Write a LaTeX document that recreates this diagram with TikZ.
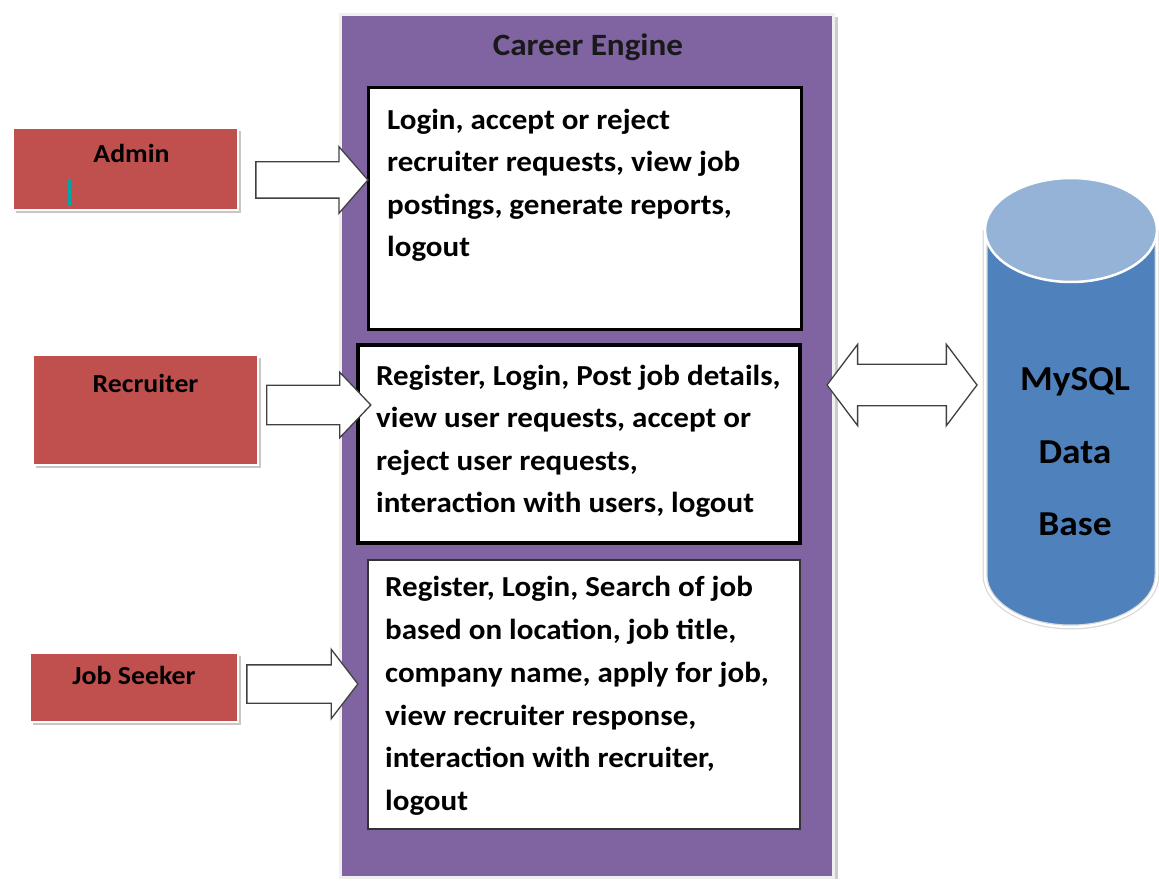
\documentclass[tikz,border=0pt]{standalone}
\usepackage{fontspec}
\setmainfont{Carlito}[FakeStretch=1.07]
\usetikzlibrary{shapes.arrows,shadows}
\definecolor{enginepurple}{HTML}{8064A2}
\definecolor{actorred}{HTML}{C0504D}
\definecolor{dbblue}{HTML}{4F81BD}
\definecolor{dbtop}{HTML}{95B3D7}
\definecolor{arrowgray}{HTML}{404040}
\begin{document}
\begin{tikzpicture}[
			x=1pt, y=1pt,
			engine/.style = {fill=enginepurple, draw=gray!12, line width=3pt, minimum width=493pt, minimum height=862pt,
				drop shadow={shadow xshift=5pt, shadow yshift=-2pt, fill=gray!40, opacity=1}},
			enginetitle/.style = {anchor=base, inner sep=0pt, text=black!90, font=\fontsize{31}{38}\selectfont\bfseries},
			actor/.style = {fill=actorred, draw=white, line width=1.5pt, inner sep=0pt, font=\fontsize{26}{32}\selectfont\bfseries,
				drop shadow={shadow xshift=3pt, shadow yshift=-3pt, fill=gray!45, opacity=1}},
			task/.style = {fill=white, draw=black, inner sep=0pt},
			tasktext/.style = {align=left, inner sep=0pt, anchor=west, font=\fontsize{29}{42.5}\selectfont\bfseries},
			flow/.style = {single arrow, draw=arrowgray, fill=white, line width=1.3pt, inner xsep=0pt},
			link/.style = {double arrow, draw=arrowgray, fill=white, line width=1.3pt, inner xsep=0pt},
			dbtext/.style = {align=center, inner sep=0pt, font=\fontsize{35}{72.5}\selectfont\bfseries},
			cursor/.style = {draw=teal!70!cyan, line width=2.5pt}
		]
		\useasboundingbox (0,0) rectangle (1159,-882);
		% the engine panel with its three task boxes
		\node[engine] (engine) at (586.5,-446) {};
		\node[enginetitle] (title) at (588,-56) {Career Engine};
		\node[task, line width=3pt, minimum width=433pt, minimum height=242pt] (admintask) at (584.5,-209) {};
		\node[task, line width=4pt, minimum width=442pt, minimum height=198pt] (rectask) at (579,-444) {};
		\node[task, draw=black!80, line width=1.5pt, minimum width=432pt, minimum height=269pt] (seektask) at (584,-694.5) {};
		\node[tasktext] (admintext) at (387,-185.5) {Login, accept or reject\\recruiter requests, view job\\postings, generate reports,\\logout};
		\node[tasktext] (rectext) at (376,-441.5) {Register, Login, Post job details,\\view user requests, accept or\\reject user requests,\\interaction with users, logout};
		\node[tasktext, font=\fontsize{29}{42.8}\selectfont\bfseries] (seektext) at (385,-696) {Register, Login, Search of job\\based on location, job title,\\company name, apply for job,\\view recruiter response,\\interaction with recruiter,\\logout};
		% the three users
		\node[actor, minimum width=225pt, text height=34.7pt, text depth=47.3pt] (admin) at (125.5,-169) {\hspace*{12pt}Admin};
		\node[actor, minimum width=225pt, text height=37.7pt, text depth=72.3pt] (recruiter) at (145.5,-410) {Recruiter};
		\node[actor, minimum width=208pt, text height=31.7pt, text depth=37.3pt] (seeker) at (134,-687.5) {Job Seeker};
		\draw[cursor] ([shift={(57,5)}]admin.south west) -- ++(0,27);
		% the data base
		\fill[dbblue] (985,-230) -- (985,-575) arc[start angle=180, end angle=360, x radius=86, y radius=52] -- (1157,-230) -- cycle;
		\draw[gray!30, line width=5pt] (985,-230) -- (985,-575) arc[start angle=180, end angle=360, x radius=86, y radius=52] -- (1157,-230);
		\draw[white, line width=2.5pt] (985,-230) -- (985,-575) arc[start angle=180, end angle=360, x radius=86, y radius=52] -- (1157,-230);
		\filldraw[fill=dbtop, draw=white, line width=2.5pt] (1071,-230) ellipse[x radius=86, y radius=52];
		\node[dbtext] (db) at (1075,-452) {MySQL\\Data\\Base};
		% block arrows
		\node[flow, inner ysep=17.5pt, minimum height=112pt, single arrow head extend=15pt, single arrow tip angle=98] (a1) at (304,-180) {};
		\node[flow, inner ysep=19pt, minimum height=104pt, single arrow head extend=13pt, single arrow tip angle=93] (a2) at (309.5,-405) {};
		\node[flow, inner ysep=18.5pt, minimum height=111pt, single arrow head extend=15.5pt, single arrow tip angle=105] (a3) at (295,-684) {};
		\node[link, inner ysep=20pt, minimum height=150pt, double arrow head extend=20pt, double arrow tip angle=106] (a4) at (902,-385) {};
	\end{tikzpicture}
\end{document}
